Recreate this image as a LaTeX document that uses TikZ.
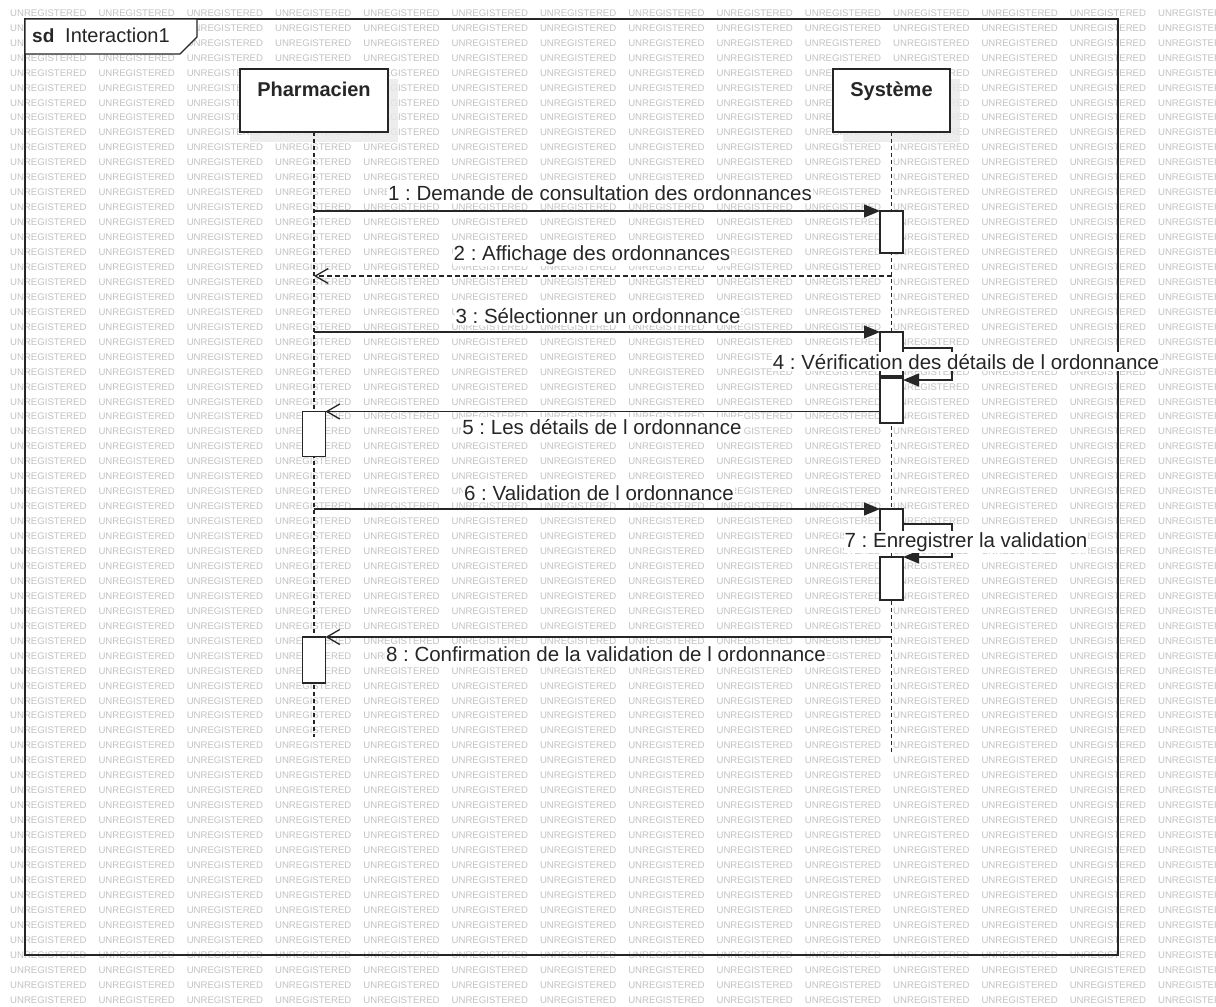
\documentclass[tikz,border=0pt]{standalone}
\usepackage{fontspec}
\setmainfont{Liberation Sans}
\usetikzlibrary{arrows.meta,calc}
\frenchspacing

\definecolor{ink}{HTML}{262626}
\definecolor{wmgray}{HTML}{C2C2C2}
\definecolor{shade}{HTML}{E9E9E9}

\begin{document}
\begin{tikzpicture}[x=1pt,y=-1pt,
  wm/.style={font=\fontsize{9.6}{10}\selectfont, text=wmgray, anchor=west, inner sep=0pt},
  line/.style={draw=ink, line width=1.3pt},
  frame/.style={line, anchor=north west, inner sep=0pt, outer sep=0pt},
  headbox/.style={line, fill=white, anchor=north west, inner sep=0pt, outer sep=0pt},
  headshadow/.style={fill=shade, fill opacity=0.8, anchor=north west, inner sep=0pt, outer sep=0pt},
  headtxt/.style={font=\fontsize{20}{24}\selectfont\bfseries, text=ink, anchor=base, inner sep=0pt},
  actbox/.style={line, fill=white, anchor=north west, inner sep=0pt, outer sep=0pt, minimum width=23pt},
  lifeline/.style={draw=ink, line width=1.2pt, dash pattern=on 4pt off 3pt},
  msg/.style={draw=ink, line width=1.3pt},
  call/.style={msg, -{Triangle[length=16pt,width=13pt]}},
  reply/.style={msg, -{Straight Barb[length=13pt,width=15pt,line width=1.3pt]}},
  lbl/.style={font=\fontsize{20.5}{24}\selectfont, text=ink, anchor=base, fill=white, inner xsep=1pt, inner ysep=1.5pt},
]
% page
\useasboundingbox (0,0) rectangle (1216,1007);
\fill[white] (0,0) rectangle (1216,1007);

% tiled background mark
\begin{scope}
  \clip (0,0) rectangle (1216,1007);
  \foreach \r in {0,...,66}{
    \foreach \c in {0,...,13}{
      \node[wm] (wm-\r-\c) at ({10+88.3*\c},{13+14.95*\r}) {UNREGISTERED};
    }
  }
\end{scope}

% interaction frame and its name tag
\node[frame, minimum width=1093pt, minimum height=936pt] (frame) at (25,19) {};
\draw[line, fill=white] (frame.north west) -- ++(172,0) -- ++(0,18) -- ++(-17,17) -- ++(-155,0) -- cycle;
\node[font=\fontsize{19}{22}\selectfont\bfseries, text=ink, anchor=base west, inner sep=0pt] (sdkw) at (32,42) {sd};
\node[font=\fontsize{20}{22}\selectfont, text=ink, anchor=base west, inner sep=0pt] (sdname) at (65,42) {Interaction1};

% lifeline heads
\node[headshadow, minimum width=148pt, minimum height=63pt] (phsh) at (250,79) {};
\node[headbox, minimum width=148pt, minimum height=63pt] (ph) at (240,69) {};
\node[headtxt] (phtxt) at (314,96) {Pharmacien};

\node[headshadow, minimum width=117pt, minimum height=63pt] (sysh) at (843,79) {};
\node[headbox, minimum width=117pt, minimum height=63pt] (sy) at (833,69) {};
\node[headtxt] (sytxt) at (891.5,96) {Système};

% lifelines
\coordinate (phend) at (314,737);
\coordinate (syend) at (891.5,753);
\draw[lifeline] (ph.south) -- (phend);
\draw[lifeline] (sy.south) -- (syend);

% activation bars
\node[actbox, minimum height=42pt] (s1) at (880,211) {};
\node[actbox, minimum height=44pt] (s2) at (880,332) {};
\node[actbox, minimum height=45pt] (s3) at (880,378) {};
\node[actbox, minimum height=43pt] (s4) at (880,509) {};
\node[actbox, minimum height=43pt] (s5) at (880,557) {};
\node[actbox, minimum height=45pt] (p1) at (302.5,411.5) {};
\node[actbox, minimum height=46pt] (p2) at (302.5,637) {};

% messages
\coordinate (r2) at (0,276);
\draw[call] (ph.south |- s1.north west) -- (s1.north west);
\draw[reply, dash pattern=on 5pt off 3pt] (sy.south |- r2) -- (ph.south |- r2);
\draw[call] (ph.south |- s2.north west) -- (s2.north west);
\draw[call] ($(s2.north east)+(0,16)$) -| ($(s3.north east)+(49,2)$) -- ($(s3.north east)+(0,2)$);
\draw[reply] (s3.west |- p1.north east) -- (p1.north east);
\draw[call] (ph.south |- s4.north west) -- (s4.north west);
\draw[call] ($(s4.north east)+(0,15)$) -| ($(s5.north east)+(49,0)$) -- (s5.north east);
\draw[reply] (sy.south |- p2.north east) -- (p2.north east);

% message labels
\node[lbl] (l1) at (600,200) {1 : Demande de consultation des ordonnances};
\node[lbl] (l2) at (592,260) {2 : Affichage des ordonnances};
\node[lbl] (l3) at (598,323) {3 : Sélectionner un ordonnance};
\node[lbl] (l4) at (966,369) {4 : Vérification des détails de l ordonnance};
\node[lbl] (l5) at (602,434) {5 : Les détails de l ordonnance};
\node[lbl] (l6) at (599,500) {6 : Validation de l ordonnance};
\node[lbl] (l7) at (966,547) {7 : Enregistrer la validation};
\node[lbl] (l8) at (606,661) {8 : Confirmation de la validation de l ordonnance};
\end{tikzpicture}
\end{document}
